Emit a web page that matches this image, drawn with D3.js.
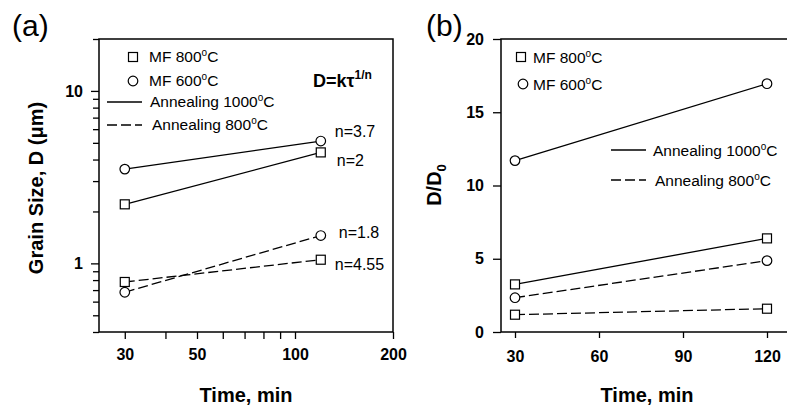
<!DOCTYPE html>
<html>
<head>
<meta charset="utf-8">
<script src="https://cdn.jsdelivr.net/npm/d3@7"></script>
<style>
  body { margin: 0; background: #fff; }
  svg { font-family: "Liberation Sans", Arial, sans-serif; }
</style>
</head>
<body>
<svg id="chart" width="787" height="405"></svg>
<script>
// times (min)
const times = [30, 120];

// panel (a): grain size D (um)
const a_mf600_1000 = [3.52, 5.12];
const a_mf800_1000 = [2.2, 4.4];
const a_mf600_800 = [0.68, 1.45];
const a_mf800_800 = [0.78, 1.05];
const nLabels = ["n=3.7", "n=2", "n=1.8", "n=4.55"];

// panel (b): D/D0
const b_mf600_1000 = [11.7, 16.95];
const b_mf800_1000 = [3.25, 6.39];
const b_mf600_800 = [2.34, 4.87];
const b_mf800_800 = [1.18, 1.59];

// ticks
const aXTicks = [30, 40, 50, 60, 70, 80, 90, 100, 200];
const aXLabels = [30, 50, 100, 200];
const aYTicks = [0.4, 0.5, 0.6, 0.7, 0.8, 0.9, 1, 2, 3, 4, 5, 6, 7, 8, 9, 10, 20];
const aYLabels = [1, 10];
const bXTicks = [30, 60, 90, 120];
const bYTicks = [0, 5, 10, 15, 20];

const svg = d3.select("#chart");
const dash = "10,4";

// scales
const xA = d3.scaleLog().domain([25, 200]).range([99, 393]);
const yA = d3.scaleLog().domain([0.4, 20]).range([332, 39]);
const xB = d3.scaleLinear().domain([25, 128]).range([501, 789.4]);
const yB = d3.scaleLinear().domain([0, 20]).range([332, 39]);

function tickText(g) {
  g.selectAll("text")
    .style("font-size", "16px")
    .style("font-weight", "bold")
    .attr("fill", "#000");
  g.selectAll("line").attr("stroke", "#000").attr("stroke-width", 1.3);
  g.select(".domain").remove();
}

// ---------- panel (a) ----------
let gx = svg.append("g")
  .attr("transform", "translate(0,332)")
  .call(d3.axisBottom(xA).tickValues(aXTicks).tickSize(7).tickPadding(10)
    .tickFormat(d => aXLabels.includes(d) ? d : ""));
tickText(gx);

let gy = svg.append("g")
  .attr("transform", "translate(99,0)")
  .call(d3.axisLeft(yA).tickValues(aYTicks).tickSize(8).tickPadding(8)
    .tickFormat(d => aYLabels.includes(d) ? d : ""));
tickText(gy);
gy.selectAll(".tick line").attr("x2", d => aYLabels.includes(d) ? -8 : -6);

svg.append("rect")
  .attr("x", xA.range()[0]).attr("y", yA.range()[1])
  .attr("width", xA.range()[1] - xA.range()[0])
  .attr("height", yA.range()[0] - yA.range()[1])
  .attr("fill", "none").attr("stroke", "#000").attr("stroke-width", 1.5);

const seriesA = [
  {vals: a_mf600_1000, shape: "circle", dash: null},
  {vals: a_mf800_1000, shape: "square", dash: null},
  {vals: a_mf600_800, shape: "circle", dash: dash},
  {vals: a_mf800_800, shape: "square", dash: dash}
];
const seriesB = [
  {vals: b_mf600_1000, shape: "circle", dash: null},
  {vals: b_mf800_1000, shape: "square", dash: null},
  {vals: b_mf600_800, shape: "circle", dash: dash},
  {vals: b_mf800_800, shape: "square", dash: dash}
];

function drawMarker(g, shape, cx, cy) {
  if (shape === "circle") {
    g.append("circle").attr("cx", cx).attr("cy", cy).attr("r", 4.8)
      .attr("fill", "#fff").attr("stroke", "#000").attr("stroke-width", 1.2);
  } else {
    g.append("rect").attr("x", cx - 4.5).attr("y", cy - 4.5)
      .attr("width", 9).attr("height", 9)
      .attr("fill", "#fff").attr("stroke", "#000").attr("stroke-width", 1.2);
  }
}

function drawSeries(list, x, y) {
  const line = d3.line().x((d, i) => x(times[i])).y(d => y(d));
  list.forEach(s => {
    svg.append("path")
      .attr("d", line(s.vals))
      .attr("fill", "none").attr("stroke", "#000").attr("stroke-width", 1.3)
      .attr("stroke-dasharray", s.dash);
  });
  list.forEach(s => {
    s.vals.forEach((v, i) => drawMarker(svg, s.shape, x(times[i]), y(v)));
  });
}
drawSeries(seriesA, xA, yA);

// n labels next to the 120 min points
const nOffsets = [[14, -4], [16, 14], [18, 2], [14, 10]];
seriesA.forEach((s, i) => {
  svg.append("text")
    .attr("x", xA(times[1]) + nOffsets[i][0])
    .attr("y", yA(s.vals[1]) + nOffsets[i][1])
    .style("font-size", "16px")
    .text(nLabels[i]);
});

// D = k tau^(1/n)
const eq = svg.append("text").attr("x", 313).attr("y", 87)
  .style("font-size", "18px").style("font-weight", "bold");
eq.append("tspan").text("D=k\u03C4");
eq.append("tspan").attr("dy", -8).style("font-size", "12px").text("1/n");

function degText(g, x, y, pre) {
  const t = g.append("text").attr("x", x).attr("y", y).style("font-size", "15.5px");
  t.append("tspan").text(pre);
  t.append("tspan").attr("dy", -6).style("font-size", "10px").text("o");
  t.append("tspan").attr("dy", 6).text("C");
}

function legend(pos) {
  drawMarker(svg, "square", pos.sq[0], pos.sq[1]);
  degText(svg, pos.sqT[0], pos.sqT[1], "MF 800");
  drawMarker(svg, "circle", pos.ci[0], pos.ci[1]);
  degText(svg, pos.ciT[0], pos.ciT[1], "MF 600");
  svg.append("line").attr("x1", pos.ln[0]).attr("x2", pos.ln[1])
    .attr("y1", pos.ln[2]).attr("y2", pos.ln[2])
    .attr("stroke", "#000").attr("stroke-width", 1.3);
  degText(svg, pos.lnT[0], pos.lnT[1], "Annealing 1000");
  svg.append("line").attr("x1", pos.ds[0]).attr("x2", pos.ds[1])
    .attr("y1", pos.ds[2]).attr("y2", pos.ds[2])
    .attr("stroke", "#000").attr("stroke-width", 1.3).attr("stroke-dasharray", dash);
  degText(svg, pos.dsT[0], pos.dsT[1], "Annealing 800");
}
legend({sq: [133, 57], sqT: [149, 62], ci: [133, 81], ciT: [149, 86],
        ln: [107, 142, 102], lnT: [150, 107], ds: [107, 142, 125], dsT: [152, 130]});

// titles (a)
svg.append("text").attr("x", 12).attr("y", 36).style("font-size", "30px").text("(a)");
svg.append("text").attr("x", 246).attr("y", 402).attr("text-anchor", "middle")
  .style("font-size", "20px").style("font-weight", "bold").text("Time, min");
svg.append("text").attr("transform", "translate(43,188) rotate(-90)")
  .attr("text-anchor", "middle")
  .style("font-size", "20px").style("font-weight", "bold").text("Grain Size, D (\u03BCm)");

// ---------- panel (b) ----------
let gxb = svg.append("g")
  .attr("transform", "translate(0,332)")
  .call(d3.axisBottom(xB).tickValues(bXTicks).tickSize(6).tickPadding(13));
tickText(gxb);

let gyb = svg.append("g")
  .attr("transform", "translate(501,0)")
  .call(d3.axisLeft(yB).tickValues(bYTicks).tickSize(8).tickPadding(9));
tickText(gyb);

svg.append("rect")
  .attr("x", xB.range()[0]).attr("y", yB.range()[1])
  .attr("width", xB.range()[1] - xB.range()[0])
  .attr("height", yB.range()[0] - yB.range()[1])
  .attr("fill", "none").attr("stroke", "#000").attr("stroke-width", 1.5);

drawSeries(seriesB, xB, yB);

legend({sq: [521, 57], sqT: [533, 63], ci: [523, 84], ciT: [533, 90],
        ln: [611, 646, 150], lnT: [653, 156], ds: [611, 646, 180], dsT: [655, 186]});

svg.append("text").attr("x", 426).attr("y", 36).style("font-size", "30px").text("(b)");
svg.append("text").attr("x", 647).attr("y", 402).attr("text-anchor", "middle")
  .style("font-size", "20px").style("font-weight", "bold").text("Time, min");
const dd = svg.append("text").attr("transform", "translate(441,185) rotate(-90)")
  .attr("text-anchor", "middle")
  .style("font-size", "20px").style("font-weight", "bold");
dd.append("tspan").text("D/D");
dd.append("tspan").attr("dy", 5).style("font-size", "13px").text("0");
</script>
</body>
</html>
